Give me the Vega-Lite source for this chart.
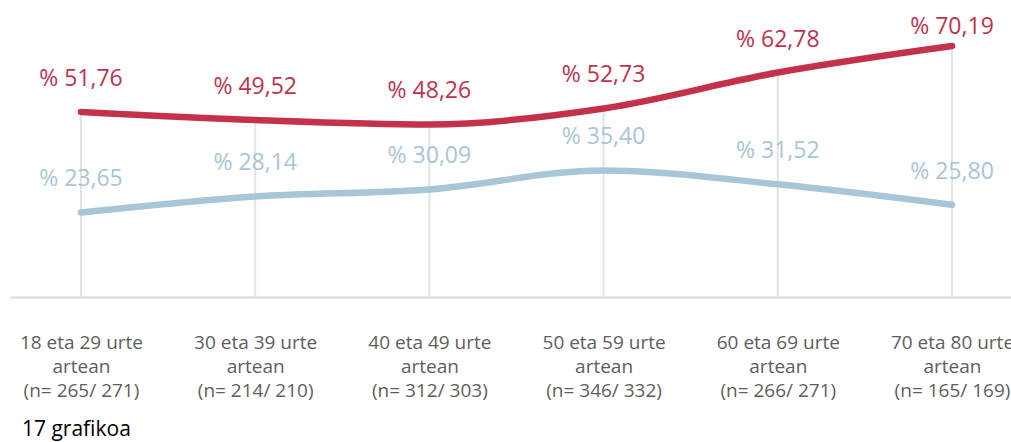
{
  "$schema": "https://vega.github.io/schema/vega-lite/v6.json",
  "width": 1001,
  "height": 286,
  "autosize": {"type": "none"},
  "padding": {"left": 10, "top": 11, "right": 0, "bottom": 145},
  "background": "white",
  "config": {"view": {"stroke": null}, "font": "Open Sans"},
  "title": {
    "text": "17 grafikoa",
    "orient": "bottom",
    "anchor": "start",
    "dx": 12,
    "offset": 19,
    "fontSize": 21,
    "fontWeight": "normal",
    "color": "#000000",
    "font": "Open Sans"
  },
  "data": {
    "values": [
      {"cat": "18 eta 29 urte|artean|(n= 265/ 271)", "series": "s1", "v": 51.76},
      {"cat": "30 eta 39 urte|artean|(n= 214/ 210)", "series": "s1", "v": 49.52},
      {"cat": "40 eta 49 urte|artean|(n= 312/ 303)", "series": "s1", "v": 48.26},
      {"cat": "50 eta 59 urte|artean|(n= 346/ 332)", "series": "s1", "v": 52.73},
      {"cat": "60 eta 69 urte|artean|(n= 266/ 271)", "series": "s1", "v": 62.78},
      {"cat": "70 eta 80 urte|artean|(n= 165/ 169)", "series": "s1", "v": 70.19},
      {"cat": "18 eta 29 urte|artean|(n= 265/ 271)", "series": "s2", "v": 23.65},
      {"cat": "30 eta 39 urte|artean|(n= 214/ 210)", "series": "s2", "v": 28.14},
      {"cat": "40 eta 49 urte|artean|(n= 312/ 303)", "series": "s2", "v": 30.09},
      {"cat": "50 eta 59 urte|artean|(n= 346/ 332)", "series": "s2", "v": 35.40},
      {"cat": "60 eta 69 urte|artean|(n= 266/ 271)", "series": "s2", "v": 31.52},
      {"cat": "70 eta 80 urte|artean|(n= 165/ 169)", "series": "s2", "v": 25.80}
    ]
  },
  "transform": [
    {"calculate": "'% ' + replace(format(datum.v, '.2f'), '.', ',')", "as": "lbl"}
  ],
  "encoding": {
    "x": {
      "field": "cat",
      "type": "nominal",
      "sort": null,
      "scale": {"type": "point", "padding": 0.373, "align": 0.546},
      "axis": {
        "title": null,
        "labelAngle": 0,
        "labelExpr": "split(datum.label, '|')",
        "labelFontSize": 19,
        "labelFont": "Open Sans",
        "labelColor": "#605E5C",
        "labelLineHeight": 24,
        "labelPadding": 36,
        "labelOverlap": false,
        "labelBound": false,
        "labelFlush": false,
        "ticks": false,
        "grid": false,
        "domainColor": "#D9D9D9",
        "domainWidth": 2
      }
    }
  },
  "layer": [
    {
      "mark": {"type": "rule", "color": "#E3E3E3", "strokeWidth": 2},
      "encoding": {
        "y": {"aggregate": "max", "field": "v", "type": "quantitative", "scale": {"domain": [0, 80]}, "axis": null},
        "y2": {"datum": 0}
      }
    },
    {
      "mark": {"type": "line", "interpolate": "monotone", "strokeWidth": 6.5, "strokeCap": "round"},
      "encoding": {
        "y": {"field": "v", "type": "quantitative", "scale": {"domain": [0, 80]}, "axis": null},
        "color": {"field": "series", "type": "nominal", "scale": {"domain": ["s1", "s2"], "range": ["#C4314B", "#A9C5D8"]}, "legend": null}
      }
    },
    {
      "transform": [{"filter": "datum.v < 65"}],
      "mark": {"type": "text", "baseline": "alphabetic", "align": "center", "dy": -26, "fontSize": 23, "font": "Open Sans"},
      "encoding": {
        "y": {"field": "v", "type": "quantitative", "scale": {"domain": [0, 80]}, "axis": null},
        "text": {"field": "lbl"},
        "color": {"field": "series", "type": "nominal", "scale": {"domain": ["s1", "s2"], "range": ["#C4314B", "#A9C5D8"]}, "legend": null}
      }
    },
    {
      "transform": [{"filter": "datum.v >= 65"}],
      "mark": {"type": "text", "baseline": "alphabetic", "align": "center", "dy": -12, "fontSize": 23, "font": "Open Sans"},
      "encoding": {
        "y": {"field": "v", "type": "quantitative", "scale": {"domain": [0, 80]}, "axis": null},
        "text": {"field": "lbl"},
        "color": {"field": "series", "type": "nominal", "scale": {"domain": ["s1", "s2"], "range": ["#C4314B", "#A9C5D8"]}, "legend": null}
      }
    }
  ]
}
